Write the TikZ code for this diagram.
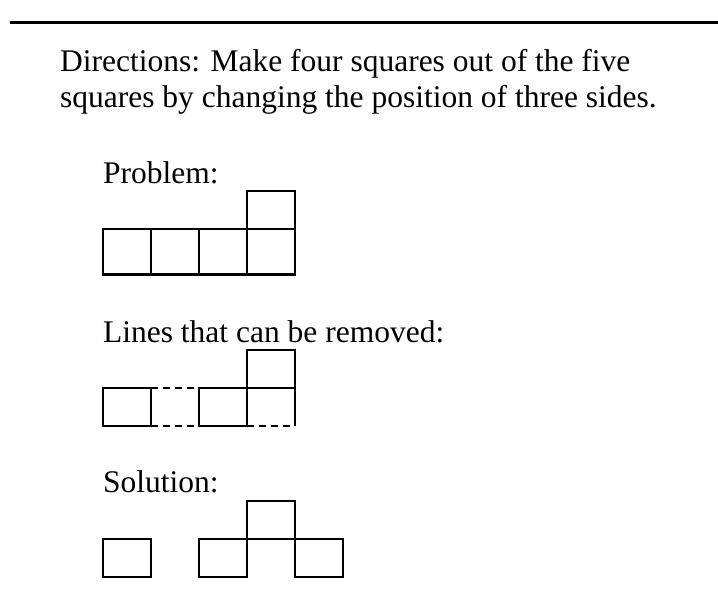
\documentclass[tikz,border=0pt]{standalone}
\usepackage{fontspec}
\setmainfont{Liberation Serif}
\begin{document}
\begin{tikzpicture}[x=1pt, y=-1pt, line width=2.2pt,
    texto/.style={anchor=base west, inner sep=0pt, font=\fontsize{31.5}{35}\selectfont},
    quitar/.style={dash pattern=on 7pt off 5pt}]
        \useasboundingbox (0,0) rectangle (718,602);
        % Linea superior
        \draw[line width=3pt] (10,22.5) -- (718,22.5);
        % Instrucciones
        \node[texto] (dir1) at (59,72) {Directions: Make four squares out of the five};
        \node[texto] (dir2) at (59,107) {squares by changing the position of three sides.};
        % Problema
        \node[texto] (prob) at (102,183) {Problem:};
        \draw (103,229) rectangle (295,274.5);
        \draw (151,229) -- (151,274.5) (199,229) -- (199,274.5) (247,229) -- (247,274.5);
        \draw (247,229) -- (247,191) -- (295,191) -- (295,229);
        % Lineas que se pueden quitar
        \node[texto] (lineas) at (102,342) {Lines that can be removed:};
        \draw (103,388) rectangle (151,426);
        \draw (247,426) -- (199,426) -- (199,388) -- (295,388);
        \draw (247,426) -- (247,350) -- (295,350) -- (295,426);
        \draw[quitar] (151,388) -- (199,388) (151,426) -- (199,426) (247,426) -- (295,426);
        % Solucion
        \node[texto] (sol) at (102,492) {Solution:};
        \draw (103,539) rectangle (151,577);
        \draw (199,539) rectangle (247,577);
        \draw (247,539) rectangle (295,501);
        \draw (295,539) rectangle (343,577);
    \end{tikzpicture}
\end{document}
